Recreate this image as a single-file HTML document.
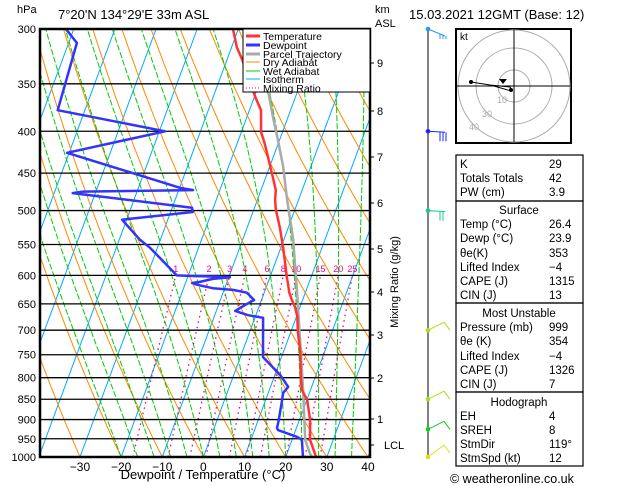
<!DOCTYPE html>
<html><head><meta charset="utf-8"><style>
body{margin:0;background:#fff;}
svg{display:block;font-family:"Liberation Sans",sans-serif;}
</style></head><body>
<svg id="c" width="629" height="486" viewBox="0 0 629 486">
<defs><clipPath id="pc"><rect x="40" y="29" width="330" height="428"/></clipPath></defs>
<g id="bg" clip-path="url(#pc)"></g>
<g id="grid"></g>
<g id="prof" clip-path="url(#pc)"></g>
<rect x="40" y="29" width="330" height="428" fill="none" stroke="#000" stroke-width="2.5"/>
<g id="labels" font-size="11"></g>
<text x="17" y="13" font-size="11">hPa</text>
<text x="58" y="19" font-size="13">7°20'N  134°29'E  33m  ASL</text>
<text x="375" y="13" font-size="11">km</text>
<text x="375" y="27" font-size="11">ASL</text>
<text x="409" y="19" font-size="13">15.03.2021  12GMT  (Base: 12)</text>
<text x="203" y="479" font-size="13" text-anchor="middle">Dewpoint  /  Temperature  (°C)</text>
<text transform="translate(398,282) rotate(-90)" font-size="11" text-anchor="middle">Mixing  Ratio  (g/kg)</text>
<g>
<rect x="243" y="29" width="127" height="63" fill="#fff" stroke="#000" stroke-width="1"/>
<g font-size="10.5">
<line x1="246" y1="36" x2="260" y2="36" stroke="#f33" stroke-width="3"/><text x="263" y="40">Temperature</text>
<line x1="246" y1="45" x2="260" y2="45" stroke="#33f" stroke-width="3"/><text x="263" y="49">Dewpoint</text>
<line x1="246" y1="54" x2="260" y2="54" stroke="#aaa" stroke-width="3"/><text x="263" y="58">Parcel Trajectory</text>
<line x1="246" y1="62" x2="260" y2="62" stroke="#f80" stroke-width="1"/><text x="263" y="66">Dry Adiabat</text>
<line x1="246" y1="71" x2="260" y2="71" stroke="#0c0" stroke-width="1"/><text x="263" y="75">Wet Adiabat</text>
<line x1="246" y1="79" x2="260" y2="79" stroke="#0af" stroke-width="1"/><text x="263" y="83">Isotherm</text>
<line x1="246" y1="88" x2="260" y2="88" stroke="#e08" stroke-width="1" stroke-dasharray="1,2"/><text x="263" y="92">Mixing Ratio</text>
</g></g>
<g id="barbs"></g>
<g>
<rect x="456" y="29" width="115" height="114" fill="#fff" stroke="#000" stroke-width="2"/>
<text x="460" y="40" font-size="10">kt</text>
<g fill="none" stroke="#aaa" stroke-width="1"><circle cx="514" cy="86" r="16"/><circle cx="514" cy="86" r="38"/><circle cx="514" cy="86" r="56"/></g>
<line x1="457" y1="86" x2="570" y2="86" stroke="#000"/><line x1="514" y1="30" x2="514" y2="142" stroke="#000"/>
<g fill="#aaa" font-size="9"><text x="497" y="103">10</text><text x="482" y="117">30</text><text x="469" y="130">40</text></g>
<polyline points="471,82 490,85 510,87 511,89" fill="none" stroke="#000"/><line x1="494" y1="86" x2="511" y2="91" stroke="#000"/>
<circle cx="471" cy="82" r="2"/><circle cx="511" cy="90" r="2"/><polygon points="499,79 507,79 503,84"/>
</g>
<g id="tables" font-size="11.5"></g>
<text x="450" y="483" font-size="12.5">© weatheronline.co.uk</text>
<script>
const NS='http://www.w3.org/2000/svg';
const pressureLevels=[300,350,400,450,500,550,600,650,700,750,800,850,900,950,1000];
const tempTicks=[-30,-20,-10,0,10,20,30,40];
const kmTicks=[1,2,3,4,5,6,7,8,9];
const kmY=[419,378,335,292,249,203,157,111,63];
const mixRatios=[1,2,3,4,6,8,10,15,20,25];
const tempP=[1000,953,901,852,828,801,740,705,674,656,643,630,613,603,575,554,524,499,485,472,455,434,414,401,377,363,327,316,300];
const tempT=[27.4,24.4,22.6,20.1,17.9,16.6,13.9,11.8,10.2,8.8,7.4,6.1,4.9,4.1,2.1,0.5,-2.1,-4.6,-5.7,-6.4,-8.3,-10.8,-13.3,-15.2,-17.2,-19.8,-26.3,-28.7,-31.3];
const dewP=[1000,953,945,927,922,901,852,835,821,794,755,676,671,663,652,643,630,625,622,616,613,611,606,603,602,601,600,555,543,513,502,496,476,474,472,469,425,400,377,312,301];
const dewT=[24.2,22.4,21.0,15.7,15.3,15.0,14.0,13.6,14.3,11.3,5.5,2.0,-1.9,-5.4,-3.5,-1.8,-4.2,-7.8,-12.9,-17.0,-18.4,-16.6,-13.7,-9.7,-12.9,-18.8,-22.8,-31.8,-34.9,-41.1,-24.6,-25.2,-55.5,-53.1,-26.5,-29.9,-60.5,-38.6,-66.6,-68.0,-71.6];
const parcelP=[1000,989,953,828,720,625,543,532,485,442,410,384,363,340];
const parcelT=[26.4,25.5,23.2,18.2,13.0,7.7,2.3,1.4,-2.8,-6.7,-10.4,-13.7,-16.4,-19.5];
const barbP=[300,400,500,700,850,925,1000];
const barbCol=['#29f','#22f','#1c8','#ad2','#ad2','#1c2','#dd2'];
const K=355.5,X0=203.4,DX=4.114,S=0.37;
function yOf(p){return 457-K*Math.log(1000/p);}
function xOf(T,p){return X0+DX*T+S*(457-yOf(p));}
function el(tag,at,parent){const e=document.createElementNS(NS,tag);for(const k in at)e.setAttribute(k,at[k]);parent.appendChild(e);return e;}
function path(pts){return pts.map((q,i)=>(i?'L':'M')+q[0].toFixed(1)+','+q[1].toFixed(1)).join('');}
const bg=document.getElementById('bg'),grid=document.getElementById('grid'),prof=document.getElementById('prof'),lab=document.getElementById('labels');
for(let T=-120;T<=40;T+=10){const e=el('line',{x1:xOf(T,1000),y1:457,x2:xOf(T,300),y2:29,stroke:'#0af','stroke-width':1},bg);
}
for(let th=-40;th<=220;th+=10){const pts=[];for(let p=1000;p>=300;p-=10){const T=(th+273.15)*Math.pow(p/1000,0.286)-273.15;pts.push([xOf(T,p),yOf(p)]);}
const e=el('path',{d:path(pts),fill:'none',stroke:'#f80','stroke-width':1},bg);}
function es(T){return 6.112*Math.exp(17.67*T/(T+243.5));}
for(let tw=-20;tw<=36;tw+=4){let T=tw;const pts=[[xOf(T,1000),457]];for(let p=1000;p>300;p-=5){const Tk=T+273.15,rs=0.622*es(T)/(p-es(T));
const d=(287*Tk+2.5e6*rs)/(1004+2.5e6*2.5e6*rs*0.622/(287*Tk*Tk))/p;T-=d*5;pts.push([xOf(T,p-5),yOf(p-5)]);}
const e=el('path',{d:path(pts),fill:'none',stroke:'#0c0','stroke-width':1,'stroke-dasharray':'6,2'},bg);}
mixRatios.forEach(w=>{const pts=[];for(let p=1000;p>=600;p-=10){const e=w*p/(622+w),l=Math.log(e/6.112),T=243.5*l/(17.67-l);pts.push([xOf(T,p),yOf(p)]);}
const e=el('path',{d:path(pts),fill:'none',stroke:'#e08','stroke-width':1.3,'stroke-dasharray':'1.5,4'},bg);
const t=el('text',{x:pts[pts.length-1][0],y:272,'font-size':9,fill:'#e08','text-anchor':'middle'},bg);t.textContent=w;});
pressureLevels.forEach(p=>{const y=yOf(p);const l=el('line',{x1:40,y1:y,x2:370,y2:y,stroke:'#000','stroke-width':1.3},grid);
const t=el('text',{x:36,y:y+4,'text-anchor':'end'},lab);t.textContent=p;});
tempTicks.forEach(T=>{const t=el('text',{x:X0+DX*T,y:471,'text-anchor':'middle','font-size':12},lab);t.textContent=T<0?'−'+(-T):T;});
kmTicks.forEach((k,i)=>{el('line',{x1:370,y1:kmY[i],x2:374,y2:kmY[i],stroke:'#000'},lab);const t=el('text',{x:377,y:kmY[i]+4},lab);t.textContent=k;});
{el('line',{x1:370,y1:445,x2:374,y2:445,stroke:'#000'},lab);const t=el('text',{x:384,y:449},lab);t.textContent='LCL';}
function line(P,T,col,name){const pts=P.map((p,i)=>[xOf(T[i],p),yOf(p)]);const e=el('path',{d:path(pts),fill:'none',stroke:col,'stroke-width':2.5,'stroke-linejoin':'round'},prof);}
line(parcelP,parcelT,'#aaa','parcel-trajectory');
line(tempP,tempT,'#f33','temperature-line');
line(dewP,dewT,'#33f','dewpoint-line');
const bb=document.getElementById('barbs');
el('line',{x1:428,y1:29,x2:428,y2:457,stroke:'#000'},bb);
barbP.forEach((p,i)=>{const y=yOf(p),c=barbCol[i];const g=el('g',{stroke:c,fill:c},bb);
el('circle',{cx:428,cy:y,r:1.8},g);
if(i<3){el('line',{x1:428,y1:y,x2:445,y2:y+(i==0?7:1)},g);el('line',{x1:440,y1:y+(i==0?5:1),x2:440,y2:y+10},g);el('line',{x1:443,y1:y+(i==0?6:1),x2:443,y2:y+10},g);if(i<2)el('line',{x1:446,y1:y+(i==0?7:1),x2:446,y2:y+10},g);}
else{const dy=i==6?-12:-8;el('line',{x1:428,y1:y,x2:444,y2:y+dy},g);el('line',{x1:444,y1:y+dy,x2:450,y2:y+dy+8},g);}});
const tb=document.getElementById('tables');
function box(y1,y2){el('rect',{x:456,y:y1,width:127,height:y2-y1,fill:'none',stroke:'#000','stroke-width':1.2},tb);}
box(155,201);box(201,303);box(303,392);box(392,466);
const rows=[[168,'K','29'],[182,'Totals Totals','42'],[196,'PW (cm)','3.9'],[214,'Surface',null],[228,'Temp (°C)','26.4'],[242,'Dewp (°C)','23.9'],[257,'θe(K)','353'],[271,'Lifted Index','−4'],[285,'CAPE (J)','1315'],[299,'CIN (J)','13'],
[317,'Most Unstable',null],[331,'Pressure (mb)','999'],[345,'θe (K)','354'],[360,'Lifted Index','−4'],[374,'CAPE (J)','1326'],[388,'CIN (J)','7'],
[406,'Hodograph',null],[420,'EH','4'],[434,'SREH','8'],[448,'StmDir','119°'],[462,'StmSpd (kt)','12']];
rows.forEach(r=>{const t=el('text',{x:r[2]===null?519:460,y:r[0],'text-anchor':r[2]===null?'middle':'start'},tb);t.textContent=r[1];
if(r[2]!==null){const v=el('text',{x:549,y:r[0]},tb);v.textContent=r[2];}});
</script>
</svg>
</body></html>
